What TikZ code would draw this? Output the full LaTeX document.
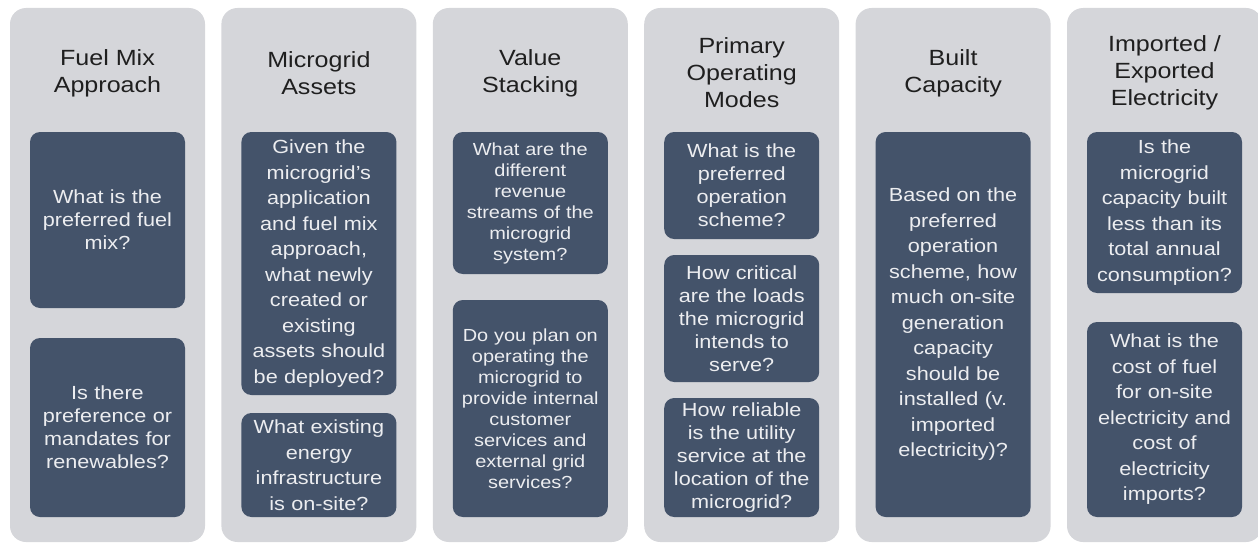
\documentclass[tikz,border=0pt]{standalone}
\usepackage{fontspec}
\setmainfont{Liberation Sans}[FakeStretch=1.14]
\usetikzlibrary{positioning}
\definecolor{panelgray}{RGB}{213,214,218}
\definecolor{slate}{RGB}{68,83,106}
\definecolor{paletext}{RGB}{236,237,240}
\newcommand{\tightq}{\fontsize{19}{23}\selectfont}
\newcommand{\smallq}{\fontsize{17.5}{21}\selectfont}

\begin{document}
\begin{tikzpicture}[
	panel/.style={fill=panelgray, rounded corners=16pt, minimum width=195pt, minimum height=534pt, inner sep=0pt, outer sep=0pt},
	heading/.style={text=black!88, align=center, font=\fontsize{22}{27}\selectfont},
	question/.style={fill=slate, rounded corners=10pt, minimum width=155pt, text width=150pt, inner sep=0pt, outer sep=0pt, align=center, text=paletext, font=\fontsize{19}{25.5}\selectfont}
	]
	\useasboundingbox (0,0) rectangle (1258pt,-543pt);
	\node (fuel) [panel, anchor=north west] at (10pt,-8pt) {};
	\node (assets) [panel, right=16.4pt of fuel] {};
	\node (value) [panel, right=16.4pt of assets] {};
	\node (modes) [panel, right=16.4pt of value] {};
	\node (built) [panel, right=16.4pt of modes] {};
	\node (trade) [panel, right=16.4pt of built] {};

	\node (fuelT) [heading] at ([yshift=-65pt]fuel.north) {Fuel Mix\\Approach};
	\node (assetsT) [heading] at ([yshift=-65pt]assets.north) {Microgrid\\Assets};
	\node (valueT) [heading] at ([yshift=-65pt]value.north) {Value\\Stacking};
	\node (modesT) [heading] at ([yshift=-65pt]modes.north) {Primary\\Operating\\Modes};
	\node (builtT) [heading] at ([yshift=-65pt]built.north) {Built\\Capacity};
	\node (tradeT) [heading] at ([yshift=-65pt]trade.north) {Imported /\\Exported\\Electricity};

	\node (fuelA) [question, font=\tightq, minimum height=176pt, below=124pt of fuel.north] {What is the\\preferred fuel\\mix?};
	\node (fuelB) [question, font=\tightq, minimum height=179pt, below=30pt of fuelA] {Is there\\preference or\\mandates for\\renewables?};

	\node (assetsA) [question, minimum height=263pt, below=124pt of assets.north] {Given the\\microgrid's\\application\\and fuel mix\\approach,\\what newly\\created or\\existing\\assets should\\be deployed?};
	\node (assetsB) [question, minimum height=104pt, below=18pt of assetsA] {What existing\\energy\\infrastructure\\is on-site?};

	\node (valueA) [question, font=\smallq, minimum height=142pt, below=124pt of value.north] {What are the\\different\\revenue\\streams of the\\microgrid\\system?};
	\node (valueB) [question, font=\smallq, minimum height=217pt, below=26pt of valueA] {Do you plan on\\operating the\\microgrid to\\provide internal\\customer\\services and\\external grid\\services?};

	\node (modesA) [question, font=\tightq, minimum height=107pt, below=124pt of modes.north] {What is the\\preferred\\operation\\scheme?};
	\node (modesB) [question, font=\tightq, minimum height=127pt, below=16pt of modesA] {How critical\\are the loads\\the microgrid\\intends to\\serve?};
	\node (modesC) [question, font=\tightq, minimum height=119pt, below=16pt of modesB] {How reliable\\is the utility\\service at the\\location of the\\microgrid?};

	\node (builtA) [question, minimum height=385pt, below=124pt of built.north] {Based on the\\preferred\\operation\\scheme, how\\much on-site\\generation\\capacity\\should be\\installed (v.\\imported\\electricity)?};

	\node (tradeA) [question, minimum height=161pt, below=124pt of trade.north] {Is the\\microgrid\\capacity built\\less than its\\total annual\\consumption?};
	\node (tradeB) [question, minimum height=195pt, below=29pt of tradeA] {What is the\\cost of fuel\\for on-site\\electricity and\\cost of\\electricity\\imports?};
\end{tikzpicture}
\end{document}
